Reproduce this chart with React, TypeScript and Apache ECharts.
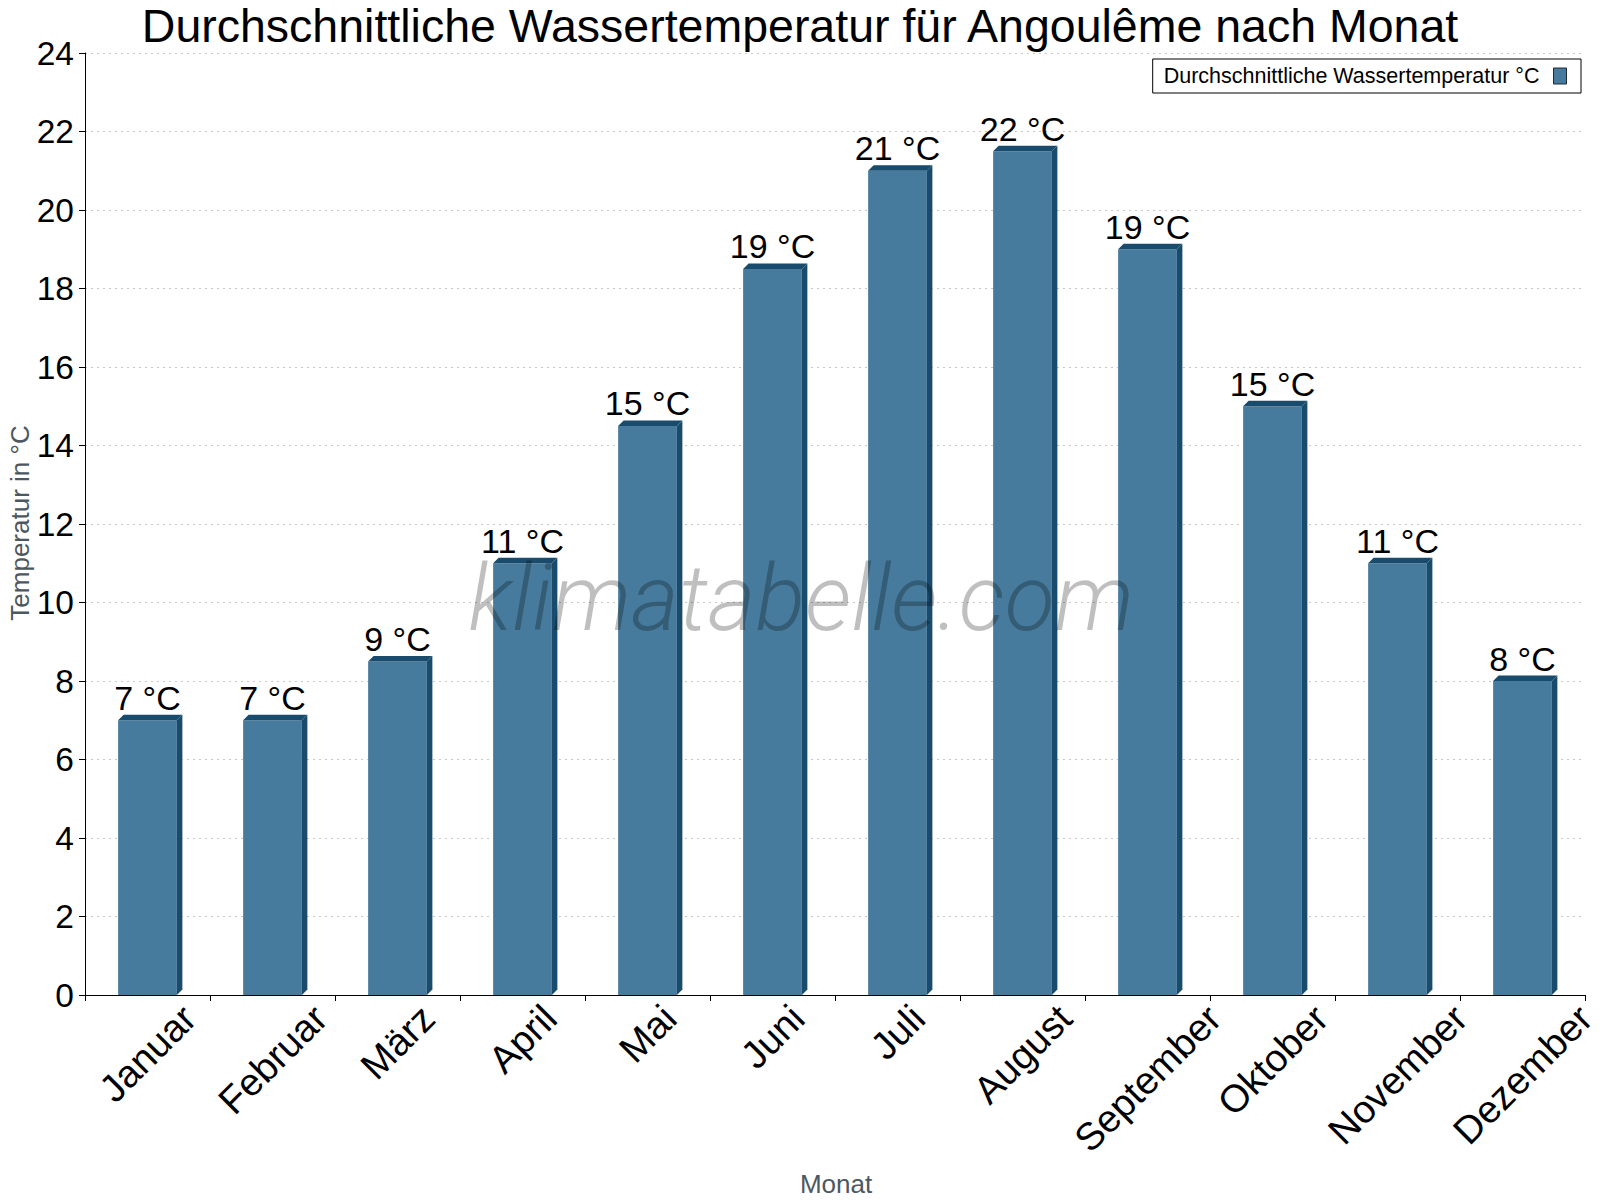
import React, { useEffect, useRef } from "react";
import * as echarts from "echarts";

const months = ["Januar", "Februar", "März", "April", "Mai", "Juni", "Juli", "August", "September", "Oktober", "November", "Dezember"];
const waterTemp = [7, 7, 8.5, 11, 14.5, 18.5, 21, 21.5, 19, 15, 11, 8];
const yTicks = { min: 0, max: 24, interval: 2 };

const FONT = "'Liberation Sans', Arial, sans-serif";
const FRONT = "#467b9d";
const DARK = "#194b6c";
const XLABEL_SIZE = 38.5;

function measure(text: string, size: number): number {
  const c = document.createElement("canvas");
  const ctx = c.getContext("2d");
  if (!ctx) return text.length * size * 0.55;
  ctx.font = `${size}px 'Liberation Sans', Arial, sans-serif`;
  return ctx.measureText(text).width;
}

export default function App() {
  const ref = useRef<HTMLDivElement>(null);
  useEffect(() => {
    if (!ref.current) return;
    const chart = echarts.init(ref.current, null, { renderer: "svg" });
    const d = 5.5;
    const labelWidths = months.map((m) => measure(m, XLABEL_SIZE));
    chart.setOption({
      animation: false,
      backgroundColor: "#ffffff",
      title: {
        text: "Durchschnittliche Wassertemperatur für Angoulême nach Monat",
        left: "center",
        top: 2,
        padding: 0,
        textStyle: { fontFamily: FONT, fontSize: 46.5, fontWeight: "normal", color: "#000" },
      },
      legend: {
        right: 19,
        top: 59,
        align: "right",
        orient: "horizontal",
        icon: "rect",
        itemWidth: 13,
        itemHeight: 16,
        itemGap: 10,
        padding: [6, 14, 6, 11],
        borderColor: "#000",
        borderWidth: 1,
        borderRadius: 0,
        textStyle: { fontFamily: FONT, fontSize: 21.5, color: "#000", padding: [0, 9, 0, 0] },
        data: [{ name: "Durchschnittliche Wassertemperatur °C", itemStyle: { color: FRONT, borderColor: "#1e2a33", borderWidth: 1 } }],
      },
      grid: { left: 85, right: 15, top: 53, bottom: 205, containLabel: false },
      xAxis: {
        type: "category",
        data: months,
        boundaryGap: true,
        axisLine: { lineStyle: { color: "#000", width: 1 } },
        axisTick: { show: true, length: 6, lineStyle: { color: "#000" } },
        axisLabel: { show: false },
        splitLine: { show: false },
      },
      yAxis: {
        type: "value",
        min: yTicks.min,
        max: yTicks.max,
        interval: yTicks.interval,
        axisLine: { show: true, lineStyle: { color: "#000", width: 1 } },
        axisTick: { show: true, length: 6, lineStyle: { color: "#000" } },
        axisLabel: { fontFamily: FONT, fontSize: 33.5, color: "#000", margin: 11 },
        splitLine: { show: true, lineStyle: { color: "#c8c8c8", type: [2, 4], width: 1 } },
      },
      graphic: [
        {
          type: "text",
          x: 20,
          y: 523,
          rotation: Math.PI / 2,
          style: {
            text: "Temperatur in °C",
            fontFamily: FONT,
            fontSize: 26,
            fill: "#4d5760",
            align: "center",
            verticalAlign: "middle",
          },
        },
        {
          type: "text",
          x: 836,
          y: 1184,
          style: {
            text: "Monat",
            fontFamily: FONT,
            fontSize: 26,
            fill: "#4d5760",
            align: "center",
            verticalAlign: "middle",
          },
        },
        {
          type: "text",
          x: 801,
          y: 598,
          z: 100,
          silent: true,
          style: {
            text: "klimatabelle.com",
            fontFamily: "Roboto, 'Open Sans', sans-serif",
            fontStyle: "italic",
            fontWeight: 300,
            fontSize: 92,
            fill: "rgba(0,0,0,0.25)",
            align: "center",
            verticalAlign: "middle",
          },
        },
      ],
      series: [
        {
          name: "Durchschnittliche Wassertemperatur °C",
          type: "custom",
          clip: false,
          itemStyle: { color: FRONT },
          data: waterTemp.map((v, i) => [i, v]),
          encode: { x: 0, y: 1 },
          renderItem: (params: any, api: any) => {
            const idx = api.value(0);
            const val = api.value(1);
            const top = api.coord([idx, val]);
            const base = api.coord([idx, 0]);
            const size = api.size([1, 0]);
            const bw = size[0] * 0.47;
            const cx = top[0];
            const x0 = cx - bw / 2;
            const x1 = x0 + bw;
            const yt = top[1];
            const y0 = base[1];
            const lw = labelWidths[idx];
            const half = (lw + XLABEL_SIZE) * Math.SQRT1_2 / 2;
            return {
              type: "group",
              children: [
                { type: "rect", shape: { x: x0, y: yt, width: bw, height: y0 - yt }, style: { fill: FRONT } },
                {
                  type: "polygon",
                  shape: { points: [[x0, yt], [x0 + d, yt - d], [x1 + d, yt - d], [x1, yt]] },
                  style: { fill: DARK },
                },
                {
                  type: "polygon",
                  shape: { points: [[x1, yt], [x1 + d, yt - d], [x1 + d, y0 - d], [x1, y0]] },
                  style: { fill: DARK },
                },
                {
                  type: "text",
                  style: {
                    text: Math.round(val) + " °C",
                    x: cx,
                    y: yt - d,
                    align: "center",
                    verticalAlign: "bottom",
                    fontFamily: FONT,
                    fontSize: 34,
                    fill: "#000",
                  },
                },
                {
                  type: "text",
                  x: cx,
                  y: y0 + 3 + half,
                  rotation: Math.PI / 4,
                  style: {
                    text: months[idx],
                    align: "center",
                    verticalAlign: "middle",
                    fontFamily: FONT,
                    fontSize: XLABEL_SIZE,
                    fill: "#000",
                  },
                },
              ],
            };
          },
        },
      ],
    });
    return () => chart.dispose();
  }, []);
  return <div ref={ref} style={{ position: "fixed", left: 0, top: 0, width: 1600, height: 1200 }} />;
}
